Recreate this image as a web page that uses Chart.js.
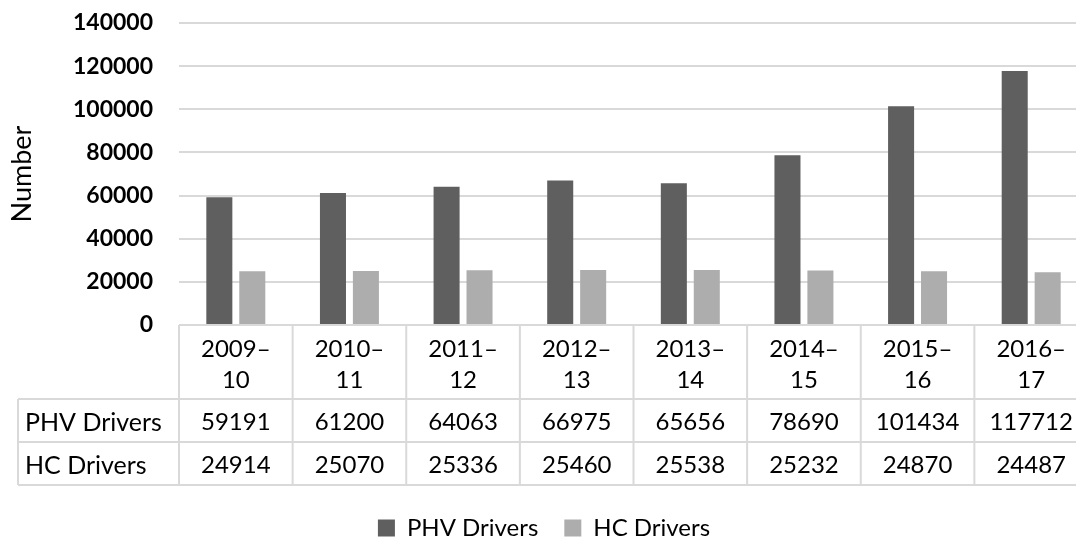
<!DOCTYPE html>
<html>
<head>
<meta charset="utf-8">
<script src="https://cdn.jsdelivr.net/npm/chart.js@4.4.1/dist/chart.umd.min.js"></script>
<style>
  body { margin: 0; overflow: hidden; background: #fff; }
  #wrap { width: 1088px; height: 541px; position: relative; }
</style>
</head>
<body>
<div id="wrap"><canvas id="myChart"></canvas></div>
<script>
var years = [["2009–", "10"], ["2010–", "11"], ["2011–", "12"], ["2012–", "13"],
             ["2013–", "14"], ["2014–", "15"], ["2015–", "16"], ["2016–", "17"]];
var phvDrivers = [59191, 61200, 64063, 66975, 65656, 78690, 101434, 117712];
var hcDrivers = [24914, 25070, 25336, 25460, 25538, 25232, 24870, 24487];
var yMax = 140000;
var yStep = 20000;

var FONT = "Lato, 'Noto Sans', sans-serif";
var LINE = "#d9d9d9";

// draws the data table under the plot, like excel does
var dataTable = {
  id: "dataTable",
  afterDraw: function(chart){
    var ctx = chart.ctx;
    var x = chart.scales.x;
    var area = chart.chartArea;
    var n = years.length;
    var w = (area.right - area.left) / n;
    var top = area.bottom;
    var hdrBottom = top + 74;
    var rowH = 43;
    var tableLeft = 18;
    var rows = [
      { label: "PHV Drivers", data: chart.data.datasets[0].data },
      { label: "HC Drivers", data: chart.data.datasets[1].data }
    ];
    var bottom = hdrBottom + rowH * rows.length;

    ctx.save();
    ctx.strokeStyle = LINE;
    ctx.lineWidth = 2;
    ctx.beginPath();
    ctx.moveTo(area.left, top); ctx.lineTo(area.right, top);
    for (var r = 0; r <= rows.length; r++){
      var yy = hdrBottom + r * rowH;
      ctx.moveTo(tableLeft, yy); ctx.lineTo(area.right, yy);
    }
    ctx.moveTo(tableLeft, hdrBottom); ctx.lineTo(tableLeft, bottom);
    for (var i = 0; i <= n; i++){
      var xx = area.left + i * w;
      ctx.moveTo(xx, top); ctx.lineTo(xx, bottom);
    }
    ctx.stroke();

    ctx.fillStyle = "#000";
    ctx.font = "24px " + FONT;
    ctx.textBaseline = "middle";
    ctx.textAlign = "center";
    for (var j = 0; j < n; j++){
      var cx = x.getPixelForValue(j);
      ctx.fillText(years[j][0], cx, top + 24);
      ctx.fillText(years[j][1], cx, top + 55);
      for (var k = 0; k < rows.length; k++){
        ctx.fillText(String(rows[k].data[j]), cx, hdrBottom + k * rowH + rowH / 2 + 2);
      }
    }
    ctx.textAlign = "left";
    ctx.font = "25px " + FONT;
    for (var k2 = 0; k2 < rows.length; k2++){
      ctx.fillText(rows[k2].label, 25, hdrBottom + k2 * rowH + rowH / 2 + 2);
    }
    ctx.restore();
  }
};

var ctx = document.getElementById("myChart").getContext("2d");
var myChart = new Chart(ctx, {
  type: "bar",
  data: {
    labels: years.map(function(y){ return y.join(""); }),
    datasets: [{
      label: "PHV Drivers",
      data: phvDrivers,
      backgroundColor: "#5f5f5f"
    }, {
      label: "HC Drivers",
      data: hcDrivers,
      backgroundColor: "#adadad"
    }]
  },
  plugins: [dataTable],
  options: {
    responsive: true,
    maintainAspectRatio: false,
    animation: false,
    layout: { padding: { top: 23, left: 0, right: 0, bottom: -9 } },
    datasets: { bar: { categoryPercentage: 0.58, barPercentage: 0.79 } },
    plugins: {
      tooltip: { enabled: false },
      legend: {
        position: "bottom",
        labels: {
          font: { family: FONT, size: 24 },
          color: "#000",
          boxWidth: 17,
          boxHeight: 17,
          padding: 26
        }
      }
    },
    scales: {
      x: {
        ticks: { display: false },
        grid: { display: false },
        border: { display: false },
        afterFit: function(scale){ scale.height = 165; }
      },
      y: {
        min: 0,
        max: yMax,
        ticks: {
          stepSize: yStep,
          color: "#000",
          padding: 1,
          font: { family: FONT, size: 23, weight: "bold" },
          callback: function(v){ return String(v); }
        },
        grid: { color: LINE, lineWidth: 2, drawTicks: true, tickLength: 25, tickColor: "rgba(0,0,0,0)" },
        border: { display: false },
        title: {
          display: true,
          text: "Number",
          color: "#000",
          font: { family: FONT, size: 27 },
          padding: { top: 6, bottom: 0 }
        },
        afterFit: function(scale){ scale.width = 179; }
      }
    }
  }
});
</script>
</body>
</html>
